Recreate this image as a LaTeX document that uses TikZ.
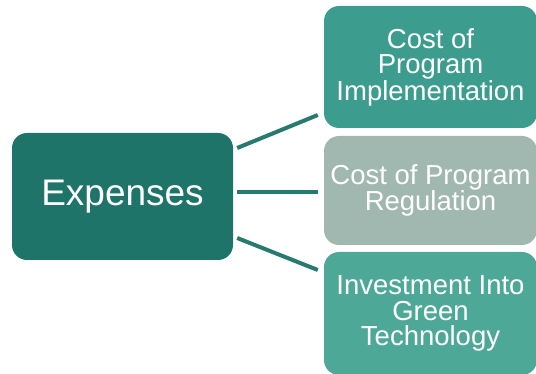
\documentclass[tikz,border=0pt]{standalone}
\usepackage{fontspec}
\setmainfont{Liberation Sans}
\begin{document}
\begin{tikzpicture}[x=1pt,y=1pt,
  box/.style={rounded corners=15pt, inner sep=0pt, align=center, text=white},
  hub/.style={box, fill=hubteal, minimum width=221pt, minimum height=127pt,
    font=\fontsize{37}{44}\selectfont},
  leaf/.style={box, minimum width=213pt, font=\fontsize{27.5}{25.5}\selectfont},
  link/.style={draw=linkteal, line width=4pt}]
\definecolor{hubteal}{HTML}{1E7469}
\definecolor{leafteal}{HTML}{3C9C8E}
\definecolor{leafgrey}{HTML}{A0B8B0}
\definecolor{leaflight}{HTML}{4EA898}
\definecolor{linkteal}{HTML}{277A70}
\useasboundingbox (0,0) rectangle (536,-374);
\begin{scope}
\clip (0,0) rectangle (536,-374);
% central node
\node[hub] (exp) at (122.5,-196.5) {Expenses};
% expense categories
\node[leaf, fill=leafteal, minimum height=122pt] (impl) at (430.5,-67)
  {Cost of\\Program\\Implementation};
\node[leaf, fill=leafgrey, minimum height=109pt] (reg) at (430.5,-190.5)
  {Cost of Program\\Regulation};
\node[leaf, fill=leaflight, minimum height=123pt] (green) at (430.5,-313.5)
  {Investment Into\\Green\\Technology};
\end{scope}
% connectors
\draw[link] ([xshift=4pt,yshift=48.5pt]exp.east) -- ([xshift=-6pt,yshift=-48pt]impl.west);
\draw[link] ([xshift=4pt,yshift=4.5pt]exp.east) -- ([xshift=-6pt,yshift=-1.5pt]reg.west);
\draw[link] ([xshift=4pt,yshift=-41.5pt]exp.east) -- ([xshift=-6pt,yshift=43.5pt]green.west);
\end{tikzpicture}
\end{document}
